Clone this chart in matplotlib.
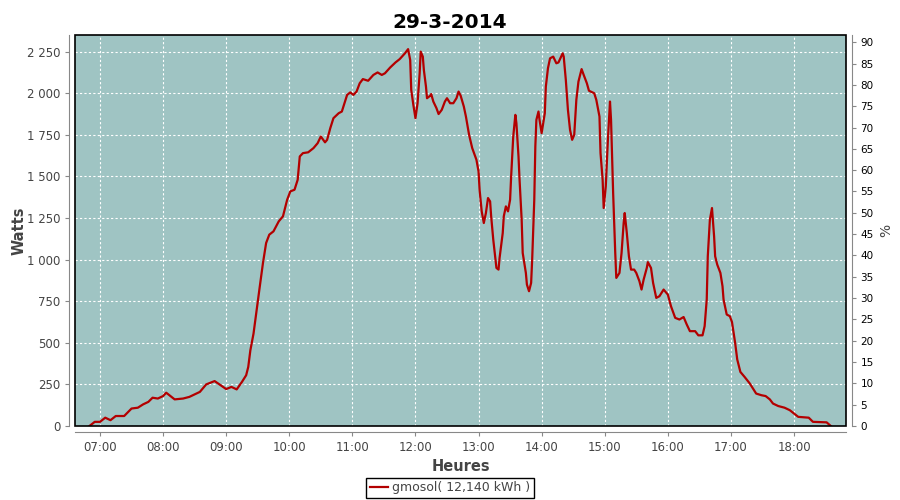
import matplotlib
matplotlib.use("Agg")
import matplotlib.pyplot as plt
from matplotlib.ticker import FuncFormatter, MultipleLocator
from matplotlib.patches import Rectangle

# values
times = ["06:50", "06:55", "07:00", "07:05", "07:10", "07:15", "07:23", "07:30", "07:36", "07:41",
         "07:46", "07:50", "07:55", "08:00", "08:03", "08:11", "08:19", "08:25", "08:35", "08:41",
         "08:49", "09:00", "09:05", "09:10", "09:15", "09:19", "09:21", "09:23", "09:26", "09:29",
         "09:32", "09:35", "09:38", "09:41", "09:45", "09:50", "09:54", "09:58", "10:01", "10:05",
         "10:08", "10:10", "10:13", "10:18", "10:23", "10:27", "10:30", "10:34", "10:36", "10:39",
         "10:42", "10:47", "10:50", "10:52", "10:55", "10:58", "11:01", "11:04", "11:07", "11:10",
         "11:15", "11:20", "11:24", "11:28", "11:31", "11:36", "11:41", "11:45", "11:50", "11:53",
         "11:55", "11:56", "11:58", "12:00", "12:02", "12:04", "12:05", "12:07", "12:08", "12:10",
         "12:11", "12:14", "12:15", "12:17", "12:20", "12:22", "12:25", "12:28", "12:30", "12:33",
         "12:36", "12:39", "12:41", "12:43", "12:46", "12:48", "12:51", "12:54", "12:58", "13:00",
         "13:01", "13:03", "13:05", "13:07", "13:09", "13:11", "13:12", "13:14", "13:16", "13:17",
         "13:19", "13:20", "13:23", "13:24", "13:26", "13:28", "13:30", "13:31", "13:33", "13:35",
         "13:36", "13:38", "13:39", "13:41", "13:42", "13:45", "13:46", "13:48", "13:50", "13:51",
         "13:53", "13:54", "13:55", "13:57", "13:58", "14:00", "14:01", "14:03", "14:04", "14:06",
         "14:08", "14:11", "14:14", "14:16", "14:20", "14:21", "14:23", "14:25", "14:27", "14:29",
         "14:31", "14:33", "14:35", "14:38", "14:40", "14:43", "14:45", "14:50", "14:52", "14:55",
         "14:56", "14:58", "14:59", "15:01", "15:03", "15:05", "15:06", "15:08", "15:10", "15:11",
         "15:14", "15:16", "15:18", "15:19", "15:21", "15:23", "15:25", "15:28", "15:30", "15:33",
         "15:35", "15:37", "15:40", "15:41", "15:44", "15:46", "15:49", "15:52", "15:56", "16:00",
         "16:03", "16:07", "16:11", "16:15", "16:18", "16:21", "16:26", "16:29", "16:33", "16:35",
         "16:37", "16:38", "16:40", "16:42", "16:44", "16:45", "16:47", "16:50", "16:52", "16:53",
         "16:56", "16:59", "17:01", "17:04", "17:06", "17:09", "17:13", "17:18", "17:21", "17:24",
         "17:29", "17:33", "17:37", "17:40", "17:45", "17:51", "17:56", "18:01", "18:04", "18:14",
         "18:18", "18:31", "18:35"]
watts = [0, 25, 25, 50, 35, 60, 60, 105, 110, 130,
         145, 170, 165, 180, 200, 160, 165, 175, 205, 250,
         270, 222, 235, 220, 265, 305, 355, 455, 555, 700,
         840, 980, 1100, 1150, 1170, 1230, 1260, 1360, 1410, 1420,
         1480, 1620, 1640, 1645, 1670, 1700, 1740, 1705, 1720, 1790,
         1850, 1880, 1890, 1930, 1990, 2005, 1990, 2010, 2060, 2085,
         2075, 2110, 2125, 2110, 2120, 2155, 2185, 2205, 2240, 2265,
         2200, 2020, 1930, 1850, 1940, 2120, 2250, 2220, 2140, 2040,
         1970, 1985, 1995, 1950, 1910, 1875, 1900, 1950, 1970, 1940,
         1940, 1970, 2010, 1985, 1920, 1860, 1750, 1670, 1600, 1530,
         1420, 1290, 1220, 1280, 1370, 1350, 1260, 1120, 1010, 950,
         940, 1010, 1160, 1260, 1320, 1290, 1360, 1500, 1740, 1870,
         1820, 1620, 1480, 1240, 1040, 920, 850, 810, 860, 1000,
         1360, 1680, 1840, 1890, 1840, 1760, 1800, 1880, 2040, 2150,
         2210, 2220, 2180, 2185, 2240, 2220, 2080, 1900, 1780, 1720,
         1750, 1960, 2070, 2145, 2110, 2060, 2015, 2000, 1960, 1860,
         1640, 1480, 1310, 1440, 1720, 1950, 1840, 1400, 1040, 890,
         920, 1040, 1220, 1280, 1160, 1020, 940, 940, 920, 870,
         820, 880, 950, 985, 950, 860, 770, 780, 820, 790,
         720, 650, 640, 655, 610, 570, 570, 545, 545, 600,
         760, 1020, 1240, 1310, 1140, 1020, 970, 920, 840, 760,
         670, 660, 625, 500, 400, 325, 295, 255, 225, 195,
         185, 180, 160, 135, 120, 110, 95, 70, 55, 50,
         25, 22, 0]
hour_ticks = list(range(7, 19))
hour_labels = ["%02d:00" % h for h in hour_ticks]
pct_ticks = list(range(0, 95, 5))

hours = [int(t[:2]) + int(t[3:]) / 60 for t in times]

txt = "#444444"
fig = plt.figure(figsize=(9, 5), dpi=100)
ax = fig.add_axes([75 / 900, 1 - 426 / 500, 771 / 900, 391 / 500])
ax.set_facecolor("#9fc4c3")

ax.plot(hours, watts, color="#b30000", lw=1.6, label="gmosol( 12,140 kWh )")

ax.set_xlim(6.604, 18.824)
ax.set_ylim(0, 2350)
ax.set_xticks(hour_ticks)
ax.set_xticklabels(hour_labels)
ax.yaxis.set_major_locator(MultipleLocator(250))
ax.yaxis.set_major_formatter(FuncFormatter(lambda v, p: f"{int(v):,}".replace(",", " ")))
ax.grid(True, color="white", ls=(0, (2, 2)), lw=0.8)

for s in ["top", "right"]:
    ax.spines[s].set_visible(False)
for s in ["left", "bottom"]:
    ax.spines[s].set_position(("outward", 4))
    ax.spines[s].set_color("#888888")
ax.tick_params(colors="#888888", labelcolor=txt, labelsize=8.5, length=3, direction="out")

ax.add_patch(Rectangle((0, 0), 1, 1, transform=ax.transAxes, fill=False,
                       edgecolor="black", lw=1.2, clip_on=False, zorder=5))

ax2 = ax.twinx()
ax2.set_ylim(0, 91.7)
ax2.set_yticks(pct_ticks)
for s in ["top", "left", "bottom"]:
    ax2.spines[s].set_visible(False)
ax2.spines["right"].set_position(("outward", 4))
ax2.spines["right"].set_color("#888888")
ax2.tick_params(colors="#888888", labelcolor="black", labelsize=7.5, length=3)
ax2.set_ylabel("%", color=txt, fontsize=10)

ax.set_xlabel("Heures", color=txt, fontsize=10.5, fontweight="bold")
ax.set_ylabel("Watts", color=txt, fontsize=10.5, fontweight="bold", labelpad=0)
fig.suptitle("29-3-2014", y=0.975, fontsize=14.5, fontweight="bold")

leg = fig.legend(loc="center", bbox_to_anchor=(0.5, 1 - 488 / 500), fontsize=9,
                 fancybox=False, framealpha=1, edgecolor="black", handlelength=1.5,
                 handletextpad=0.3, borderpad=0.3)
for t in leg.get_texts():
    t.set_color(txt)

fig.savefig("out.png", dpi=100)
